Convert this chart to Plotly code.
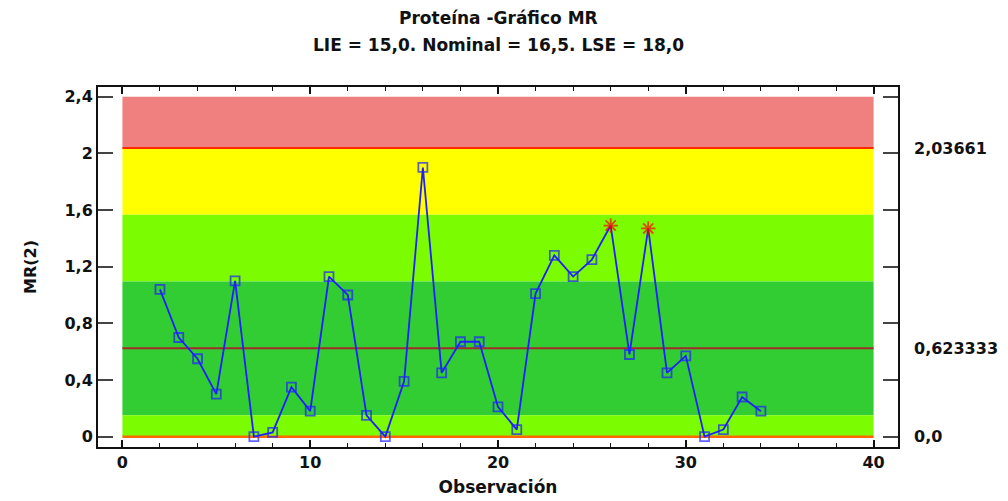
import plotly.graph_objects as go

# ---- data ----
observations = list(range(2, 35))
mr_values = [1.04, 0.70, 0.55, 0.30, 1.10, 0.00, 0.03, 0.35, 0.18, 1.13,
             1.00, 0.15, 0.00, 0.39, 1.90, 0.45, 0.67, 0.67, 0.21, 0.05,
             1.01, 1.28, 1.13, 1.25, 1.49, 0.58, 1.47, 0.45, 0.57, 0.00,
             0.05, 0.28, 0.18]
flagged = [26, 28]

ucl = 2.03661
center = 0.623333
lcl = 0.0
zone_2s = 1.5661
zone_1s_hi = 1.0947
zone_1s_lo = 0.1519
band_top = 2.4

y_ticks = [0, 0.4, 0.8, 1.2, 1.6, 2.0, 2.4]
y_tick_text = ["0", "0,4", "0,8", "1,2", "1,6", "2", "2,4"]
x_ticks = [0, 10, 20, 30, 40]
right_labels = [(ucl, "2,03661"), (center, "0,623333"), (lcl, "0,0")]
title_lines = ["Proteína -Gráfico MR", "LIE = 15,0. Nominal = 16,5. LSE = 18,0"]

FONT = "DejaVu Sans"
TXT = "#111111"

fig = go.Figure()

# colored zones
bands = [
    (ucl, band_top, "#F08080"),
    (zone_2s, ucl, "#FFFF00"),
    (zone_1s_hi, zone_2s, "#7CFC00"),
    (zone_1s_lo, zone_1s_hi, "#32CD32"),
    (lcl, zone_1s_lo, "#7CFC00"),
]
for y0, y1, c in bands:
    fig.add_shape(type="rect", xref="x", yref="y", x0=0, x1=40, y0=y0, y1=y1,
                  fillcolor=c, line_width=0, layer="below")

# control lines
fig.add_shape(type="line", xref="x", yref="y", x0=0, x1=40, y0=ucl, y1=ucl,
              line=dict(color="#FF2A00", width=2), layer="below")
fig.add_shape(type="line", xref="x", yref="y", x0=0, x1=40, y0=center, y1=center,
              line=dict(color="#A52A2A", width=2), layer="below")
fig.add_shape(type="line", xref="x", yref="y", x0=0, x1=40, y0=lcl, y1=lcl,
              line=dict(color="#FF6A00", width=2.5), layer="below")

symbols = ["asterisk-open" if o in flagged else "square-open" for o in observations]
colors = ["#FF0000" if o in flagged else "#1F1FFF" for o in observations]
sizes = [12 if o in flagged else 9 for o in observations]

fig.add_trace(go.Scatter(
    x=observations, y=mr_values, mode="lines+markers",
    line=dict(color="#1F1FFF", width=1.8),
    marker=dict(symbol=symbols, size=sizes, color=colors,
                line=dict(color=colors, width=1.8)),
    showlegend=False,
))

for yv, txt in right_labels:
    fig.add_annotation(x=1.0175, xref="paper", y=yv, yref="y", text=txt,
                       showarrow=False, xanchor="left", yanchor="middle",
                       font=dict(family=FONT, size=16, color=TXT, weight="bold"))

# two title lines (centered over the whole figure)
for yp, txt in zip([1.1917, 1.1167], title_lines):
    fig.add_annotation(x=0.5, xref="paper", y=yp, yref="paper", text=txt,
                       showarrow=False, xanchor="center", yanchor="middle",
                       font=dict(family=FONT, size=17, color=TXT, weight="bold"))

fig.update_layout(
    width=1008, height=501,
    margin=dict(l=98, r=110, t=87, b=54),
    paper_bgcolor="white", plot_bgcolor="white",
    font=dict(family=FONT, color=TXT),
    xaxis=dict(
        range=[-1.3, 41.3], tickvals=x_ticks, ticks="inside", ticklen=7,
        tickwidth=1.5, tickcolor=TXT, automargin=False,
        minor=dict(dtick=2, ticks="inside", ticklen=4, tickwidth=1, tickcolor=TXT),
        showline=True, linecolor=TXT, linewidth=2, mirror="ticks",
        showgrid=False, zeroline=False,
        tickfont=dict(family=FONT, size=16, weight="bold"),
        title=dict(text="Observación", standoff=10,
                   font=dict(family=FONT, size=17, weight="bold")),
    ),
    yaxis=dict(
        range=[-0.073, 2.468], tickvals=y_ticks, ticktext=y_tick_text,
        ticks="inside", ticklen=15, tickwidth=2, tickcolor="#444444",
        automargin=False,
        showline=True, linecolor=TXT, linewidth=2, mirror="ticks",
        showgrid=False, zeroline=False,
        tickfont=dict(family=FONT, size=16, weight="bold"),
        title=dict(text="MR(2)", standoff=24,
                   font=dict(family=FONT, size=16, weight="bold")),
    ),
)

fig.write_html("out.html")
